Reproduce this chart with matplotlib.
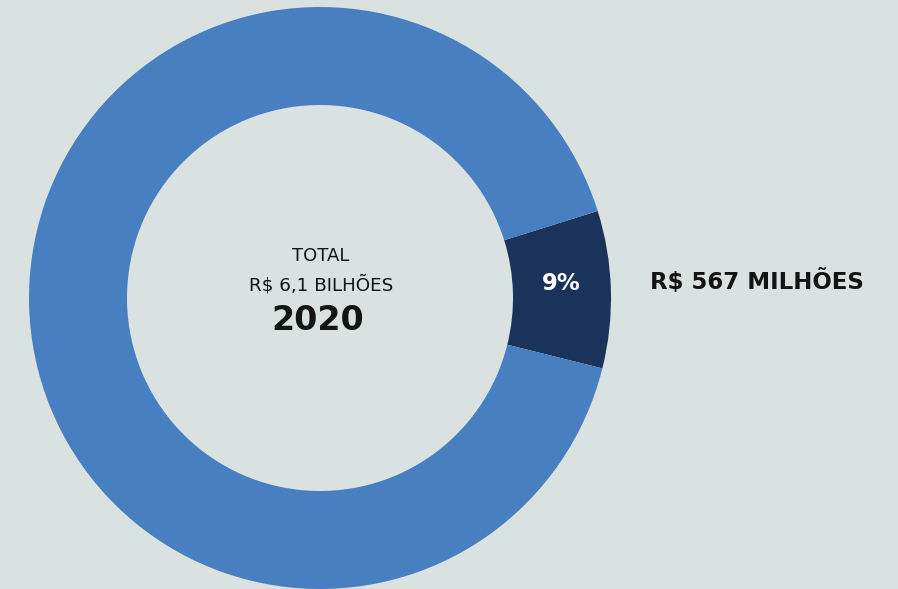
import matplotlib
matplotlib.use('Agg')
import matplotlib.pyplot as plt

# values in R$ millions
slice_labels = ['Outros', 'Destaque']
slice_values = [5933, 567]
slice_colors = ['#477fc0', '#1b335a']
pct_text = '9%'
side_label = 'R$ 567 MILHÕES'
center_lines = ['TOTAL', 'R$ 6,1 BILHÕES']
year = '2020'

bg = '#d9e2e1'
W, H = 898, 589
cx, cy = 320, 298          # donut centre in pixels (from top)
R, r = 291, 193

fig = plt.figure(figsize=(W / 100, H / 100), dpi=100, facecolor=bg)
ax = fig.add_axes([0, 0, 1, 1])
ax.set_facecolor(bg)

# dark slice drawn first so it starts at -14 deg and runs counterclockwise
ax.pie(slice_values[::-1], colors=slice_colors[::-1], radius=R,
       startangle=-14, counterclock=True, center=(0, 0),
       wedgeprops=dict(width=R - r, linewidth=0))

ax.set_xlim(-cx, W - cx)
ax.set_ylim(-(H - cy), cy)
ax.set_aspect('equal')
ax.axis('off')

def px(x, y):
    return x - cx, cy - y

ax.text(*px(321, 256), center_lines[0], ha='center', va='center',
        fontsize=13, color='#141414')
ax.text(*px(321, 285), center_lines[1], ha='center', va='center',
        fontsize=13.2, color='#141414')
ax.text(*px(318, 320), year, ha='center', va='center',
        fontsize=24, fontweight='bold', color='#141414')
ax.text(*px(561, 283), pct_text, ha='center', va='center',
        fontsize=16.5, fontweight='bold', color='white')
ax.text(*px(650, 281), side_label, ha='left', va='center',
        fontsize=16.5, fontweight='bold', color='#141414')

fig.savefig('out.png', dpi=100, facecolor=bg)
